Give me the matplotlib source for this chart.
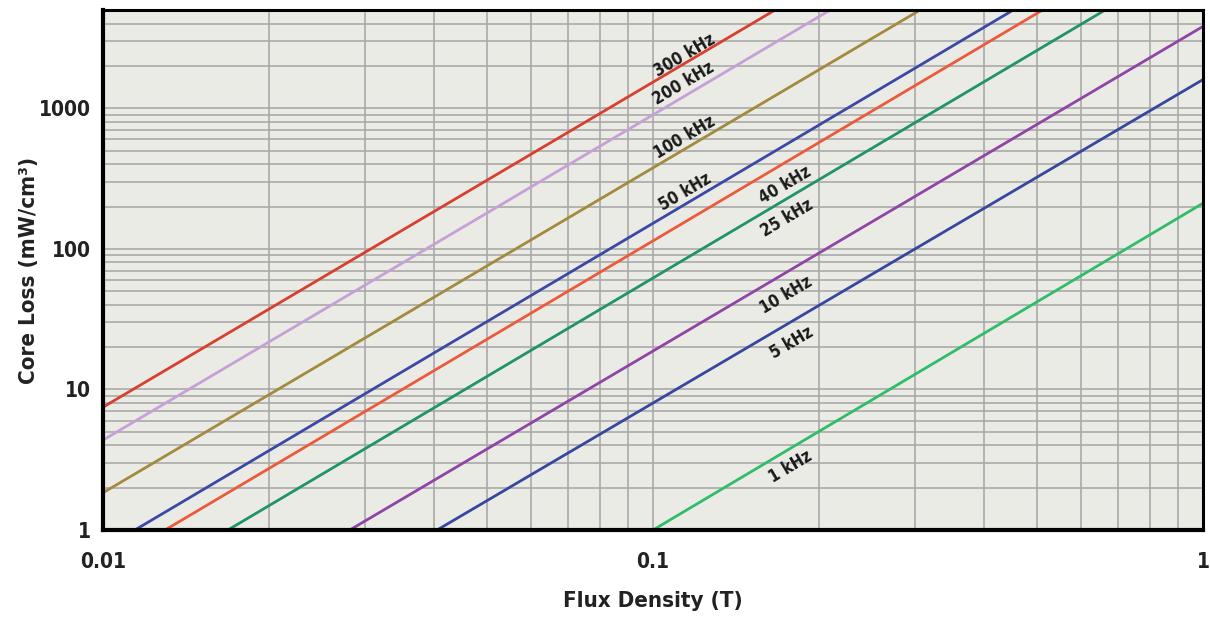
import numpy as np
import matplotlib
matplotlib.use("Agg")
import matplotlib.pyplot as plt

plt.rcParams['font.family'] = ['DejaVu Sans']
plt.rcParams['font.stretch'] = 'condensed'

# curve end points (flux density T, core loss mW/cm3)
freqs = ["300 kHz", "200 kHz", "100 kHz", "50 kHz", "40 kHz", "25 kHz", "10 kHz", "5 kHz", "1 kHz"]
b_start = [0.01, 0.01, 0.01, 0.01143, 0.01297, 0.01687, 0.0281, 0.0405, 0.1]
p_start = [7.48, 4.36, 1.84, 1.0, 1.0, 1.0, 1.0, 1.0, 1.0]
b_end = [0.1667, 0.21, 0.306, 0.452, 0.511, 0.664, 1.0, 1.0, 1.0]
p_end = [5000, 5000, 5000, 5000, 5000, 5000, 3820, 1600, 211]
colors = ["#d8402e", "#c6a0d6", "#a48a3e", "#3c48a6", "#ec5a3c", "#1f9468", "#8f45a6", "#37469f", "#2fbd68"]

# label anchor points
lab_b = [0.1143, 0.1135, 0.1143, 0.1143, 0.1738, 0.1754, 0.175, 0.179, 0.178]
lab_p = [2377, 1503, 621, 252, 283, 165, 46.8, 21.3, 2.8]

fig = plt.figure(figsize=(12.1, 6.21), dpi=100)
ax = fig.add_axes([0.0851, 0.1465, 0.9091, 0.8374])
ax.set_facecolor("#ebebe6")
ax.set_xscale("log")
ax.set_yscale("log")
ax.set_xlim(0.01, 1)
ax.set_ylim(1, 5000)

ax.grid(True, which="both", color="#a9a9a9", linewidth=1.2)
ax.set_axisbelow(True)

for i, f in enumerate(freqs):
    ax.plot([b_start[i], b_end[i]], [p_start[i], p_end[i]], color=colors[i],
            linewidth=2.0, solid_capstyle="butt")

fig.canvas.draw()
for i, f in enumerate(freqs):
    p0 = ax.transData.transform((b_start[i], p_start[i]))
    p1 = ax.transData.transform((b_end[i], p_end[i]))
    ang = np.degrees(np.arctan2(p1[1] - p0[1], p1[0] - p0[0]))
    ax.text(lab_b[i], lab_p[i], f, rotation=ang, rotation_mode="anchor",
            ha="center", va="center", fontsize=12, fontweight="bold", color="#1a1a1a")

ax.set_xticks([0.01, 0.1, 1])
ax.set_xticklabels(["0.01", "0.1", "1"])
ax.set_yticks([1, 10, 100, 1000])
ax.set_yticklabels(["1", "10", "100", "1000"])
ax.tick_params(which="both", length=0, labelsize=15, pad=9)
ax.tick_params(axis="x", pad=16)
for lab in ax.get_xticklabels() + ax.get_yticklabels():
    lab.set_fontweight("bold")
    lab.set_color("#222222")

for s in ax.spines.values():
    s.set_color("black")
    s.set_linewidth(2.2)
ax.spines["left"].set_linewidth(3)
ax.spines["bottom"].set_linewidth(3)

ax.set_xlabel("Flux Density (T)", fontsize=16, fontweight="bold", color="#222222")
ax.set_ylabel("Core Loss (mW/cm³)", fontsize=16, fontweight="bold", color="#222222")
ax.xaxis.set_label_coords(0.5, -0.117)
ax.yaxis.set_label_coords(-0.058, 0.5)

fig.savefig("out.png", dpi=100, facecolor="white")
